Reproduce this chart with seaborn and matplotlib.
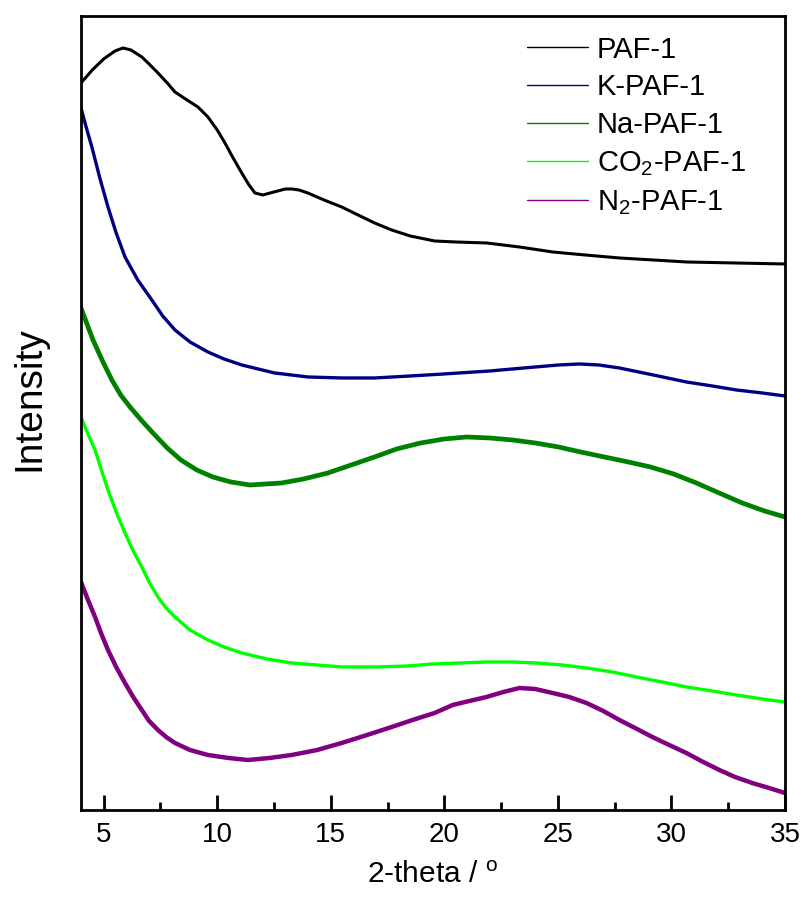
import numpy as np
import pandas as pd
import seaborn as sns
import matplotlib
matplotlib.use('Agg')
import matplotlib.pyplot as plt
from matplotlib.ticker import MultipleLocator

# 2-theta (deg) and intensity (a.u., stacked offsets)
paf_x = [4.0, 4.5, 5.0, 5.5, 5.85, 6.2, 6.68, 7.0, 7.39, 7.8, 8.14, 8.6, 9.15, 9.59,
         10.0, 10.34, 10.7, 11.08, 11.4, 11.66, 12.01, 12.5, 13.0, 13.28, 13.6, 13.99,
         14.7, 15.48, 16.2, 16.93, 17.68, 18.5, 19.57, 20.5, 21.86, 23.3, 24.77, 26.2,
         27.71, 29.2, 30.66, 32.8, 35.0]
paf_y = [727, 740, 751, 759, 762, 760, 753, 746, 737, 727, 718, 711, 703, 693,
         680, 667, 652, 637, 625, 617, 615, 618, 621, 621, 620, 617,
         610, 603, 595, 587, 580, 574, 569, 568, 567, 563, 558, 555,
         552, 550, 548, 547, 546]

k_x = [4.0, 4.24, 4.48, 4.83, 5.19, 5.55, 5.94, 6.5, 7.12, 7.6, 8.14, 8.8, 9.59, 10.3,
       11.08, 11.8, 12.53, 13.99, 15.5, 16.93, 18.5, 19.97, 22.0, 23.5, 25.03, 25.95,
       26.8, 27.71, 29.2, 30.66, 31.8, 32.86, 34.0, 35.0]
k_y = [702, 682, 663, 632, 603, 577, 553, 530, 510, 494, 480, 468, 458, 451,
       445, 441, 437, 433, 432, 432, 434, 436, 439, 442, 445, 446,
       445, 442, 435, 428, 424, 420, 417, 414]

na_x = [4.0, 4.53, 4.95, 5.36, 5.75, 6.16, 6.65, 7.17, 7.8, 8.4, 9.1, 9.81, 10.6,
        11.44, 12.84, 13.8, 14.87, 15.9, 16.93, 17.9, 18.96, 20.0, 20.98, 22.0, 23.0,
        24.0, 25.03, 26.0, 27.05, 28.1, 29.08, 30.1, 31.1, 32.1, 33.12, 34.1, 35.0]
na_y = [502, 470, 449, 430, 415, 403, 390, 377, 362, 350, 340, 333, 328,
        325, 327, 331, 337, 345, 353, 361, 367, 371, 373, 372, 370,
        367, 363, 358, 353, 348, 343, 336, 327, 317, 307, 299, 293]

co2_x = [4.0, 4.31, 4.62, 4.9, 5.19, 5.55, 5.94, 6.3, 6.68, 7.0, 7.39, 7.75, 8.14,
         8.8, 9.59, 10.3, 11.08, 12.2, 13.28, 14.4, 15.48, 17.0, 18.39, 19.5, 20.7,
         21.86, 23.0, 24.06, 25.2, 26.26, 27.4, 28.46, 29.6, 30.66, 31.8, 32.86, 34.0, 35.0]
co2_y = [393, 376, 360, 340, 320, 298, 277, 259, 243, 228, 213, 202, 193,
         180, 170, 163, 157, 151, 147, 145, 143, 143, 144, 146, 147,
         148, 148, 147, 145, 142, 138, 133, 128, 123, 119, 115, 111, 108]

n2_x = [4.0, 4.31, 4.62, 4.9, 5.19, 5.55, 5.94, 6.3, 6.68, 7.0, 7.39, 7.75, 8.14,
        8.8, 9.59, 10.5, 11.35, 12.3, 13.28, 14.4, 15.48, 16.6, 17.68, 18.6, 19.57,
        20.37, 21.1, 21.86, 22.6, 23.31, 24.0, 24.77, 25.5, 26.26, 27.0, 27.71, 28.4,
        29.16, 29.9, 30.66, 31.4, 32.11, 32.8, 33.56, 34.3, 35.0]
n2_y = [228, 210, 193, 176, 160, 143, 127, 113, 100, 89, 80, 73, 67,
        60, 55, 52, 50, 52, 55, 60, 67, 75, 83, 90, 97,
        105, 109, 113, 118, 122, 121, 117, 113, 107, 99, 90, 82,
        73, 65, 57, 48, 40, 33, 27, 22, 17]

labels = ['PAF-1', 'K-PAF-1', 'Na-PAF-1', 'CO$_2$-PAF-1', 'N$_2$-PAF-1']
colors = ['black', '#000080', '#008000', '#00ff00', '#800080']
widths = [2.2, 2.4, 3.4, 2.4, 3.2]

sns.set_style('ticks')
plt.rcParams['font.family'] = ['Liberation Sans', 'DejaVu Sans']
plt.rcParams['mathtext.fontset'] = 'custom'
plt.rcParams['mathtext.rm'] = 'Liberation Sans'
plt.rcParams['mathtext.default'] = 'regular'
plt.rcParams['text.color'] = 'black'
plt.rcParams['axes.labelcolor'] = 'black'
plt.rcParams['xtick.color'] = 'black'

fig = plt.figure(figsize=(8.08, 9.02), dpi=100)
ax = fig.add_axes([0.1002, 0.102, 0.8713, 0.8803])

series = [(paf_x, paf_y), (k_x, k_y), (na_x, na_y), (co2_x, co2_y), (n2_x, n2_y)]
for (xs, ys), lab, c, lw in zip(series, labels, colors, widths):
    df = pd.DataFrame({'theta': xs, 'I': ys})
    sns.lineplot(data=df, x='theta', y='I', color=c, linewidth=lw, label=lab, ax=ax)

ax.set_xlim(4, 35)
ax.set_ylim(0, 794)
ax.xaxis.set_major_locator(MultipleLocator(5))
ax.xaxis.set_minor_locator(MultipleLocator(2.5))
ax.tick_params(axis='x', which='major', direction='in', length=11, width=2,
               labelsize=20, pad=9, bottom=True, top=False, color='black',
               labelcolor='black')
ax.tick_params(axis='x', which='minor', direction='in', length=5.5, width=2,
               bottom=True, top=False, color='black')
ax.set_yticks([])
for s in ax.spines.values():
    s.set_linewidth(2)
    s.set_color('black')

ax.set_xlabel('2-theta / $^o$', fontsize=21.5, labelpad=9)
ax.set_ylabel('Intensity', fontsize=28)
ax.yaxis.set_label_coords(-0.048, 0.5176)

leg = ax.legend(loc='upper left', bbox_to_anchor=(527 / 808, 1 - 35.5 / 902),
                bbox_transform=fig.transFigure, frameon=False, fontsize=21,
                handlelength=2.1, handletextpad=0.3, labelspacing=0.34,
                borderpad=0, borderaxespad=0)
for line in leg.get_lines():
    line.set_linewidth(1.0)

fig.savefig('out.png', dpi=100)
